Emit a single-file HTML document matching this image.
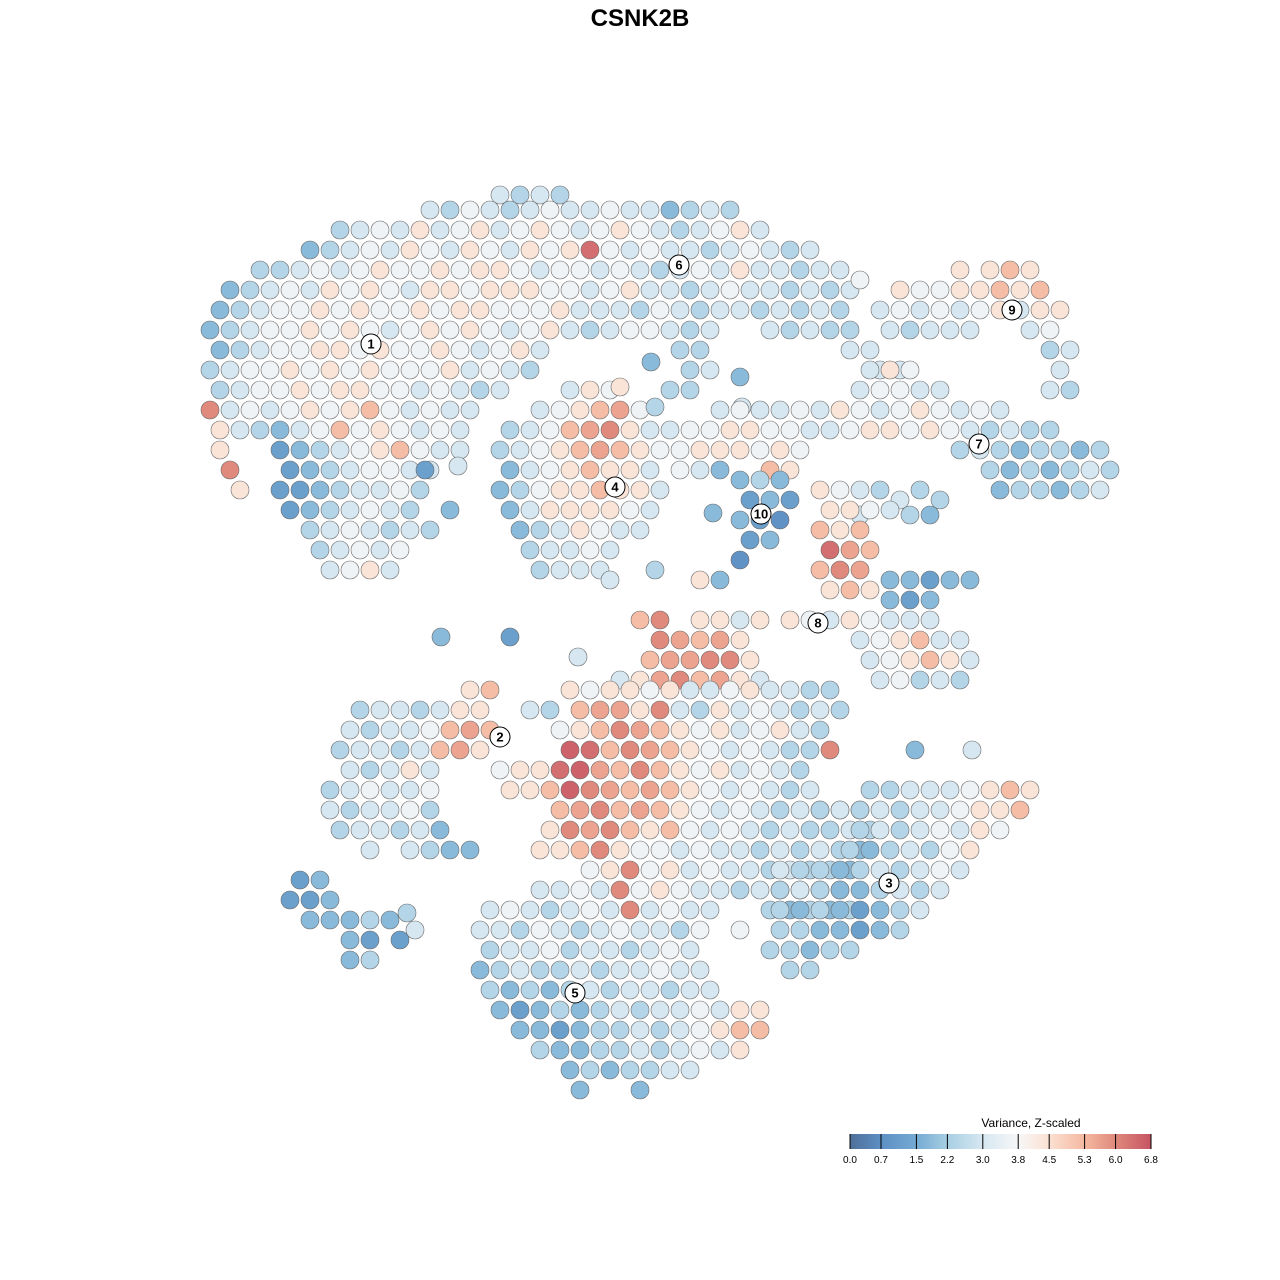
<!DOCTYPE html>
<html><head><meta charset="utf-8"><style>
html,body{margin:0;padding:0;background:#fff;}
svg{display:block;font-family:"Liberation Sans",sans-serif;}
</style></head><body>
<svg id="chart" width="1280" height="1280" viewBox="0 0 1280 1280">
<text x="640" y="26" text-anchor="middle" font-size="24" font-weight="bold">CSNK2B</text>
<g id="pts"></g>
<g id="labels"></g>
<g id="legend">
<defs><linearGradient id="grad" x1="0" x2="1" y1="0" y2="0">
<stop offset="0" stop-color="#4e6f99"/><stop offset="0.103" stop-color="#5d8fc4"/><stop offset="0.22" stop-color="#74aad3"/><stop offset="0.324" stop-color="#a8cfe3"/><stop offset="0.44" stop-color="#d6e7f1"/><stop offset="0.56" stop-color="#f7f7f7"/><stop offset="0.66" stop-color="#fbe1d3"/><stop offset="0.78" stop-color="#f5b8a0"/><stop offset="0.88" stop-color="#e08a7d"/><stop offset="1" stop-color="#c65463"/>
</linearGradient></defs>
<text x="1031" y="1127" text-anchor="middle" font-size="12">Variance, Z-scaled</text>
<rect x="850" y="1134" width="301" height="15" fill="url(#grad)"/>
<g id="lticks"></g>
</g>
</svg>
<script>
const tickLabels = ["0.0","0.7","1.5","2.2","3.0","3.8","4.5","5.3","6.0","6.8"];
const tickValues = [0.0,0.7,1.5,2.2,3.0,3.8,4.5,5.3,6.0,6.8];
const colorStopValues = [0,0.7,1.5,2.2,3.0,3.8,4.5,5.3,6.0,6.8];
const colorStopColors = ["#4e6f99","#5d8fc4","#74aad3","#a8cfe3","#d6e7f1","#f7f7f7","#fbe1d3","#f5b8a0","#e08a7d","#c65463"];

const clusterTop = [
[19.5,[50,52,54,56],[3,2.4,3,2.4]],
[21,[43,45,47,49,51,53,55,57,59,61,63,65,67,69,71,73],[3,2.4,3.6,3,2.4,3,3.6,3,3,3.6,3,3,1.8,2.4,3,2.4]],
[23,[34,36,38,40,42,44,46,48,50,52,54,56,58,60,62,64,66,68,70,72,74,76],[2.4,3,3.6,3,4.4,3,3.6,4.4,3,3.6,4.4,3.6,3,3.6,4.4,3.6,3,2.4,3,3.6,4.4,3]],
[25,[31,33,35,37,39,41,43,45,47,49,51,53,55,57,59,61,63,65,67,69,71,73,75,77,79,81],[1.8,2.4,3,3.6,3,4.4,3.6,3,4.4,3.6,3,4.4,3.6,4.4,6.4,3.6,3,3.6,3,3,2.4,3,3.6,3,2.4,3]],
[27,[26,28,30,32,34,36,38,40,42,44,46,48,50,52,54,56,58,60,62,64,66,68,70,72,74,76,78,80,82,84],[2.4,2.4,3,3.6,3,3.6,4.4,3.6,3.6,4.4,3.6,4.4,4.4,3.6,3,3.6,3.6,3,3.6,3,2.4,3,3.6,3,4.4,3,3,2.4,3,3]],
[29,[23,25,27,29,31,33,35,37,39,41,43,45,47,49,51,53,55,57,59,61,63,65,67,69,71,73,75,77,79,81,83,85],[1.8,2.4,3,3.6,3,4.4,3.6,4.4,3.6,3,4.4,4.4,3.6,4.4,4.4,4.4,3.6,3.6,3,3.6,4.4,3,3,2.4,3,3.6,3,3,2.4,3,2.4,3]],
[31,[22,24,26,28,30,32,34,36,38,40,42,44,46,48,50,52,54,56,58,60,62,64,66,68,70,72,74,76,78,80,82,84],[1.8,2.4,3,3.6,3.6,4.4,3.6,4.4,3.6,3.6,4.4,3.6,4.4,4.4,3.6,3.6,3.6,4.4,3,3,3,2.4,3.6,3,2.4,3,3,2.4,3,2.4,3,2.4]],
[33,[21,23,25,27,29,31,33,35,37,39,41,43,45,47,49,51,53,55,57,59,61,63,65,67,69,71,77,79,81,83,85],[1.8,2.4,3,3.6,3.6,4.4,3.6,4.4,3.6,3,3.6,4.4,3.6,4.4,3.6,3,3.6,4.4,3,2.4,3,3.6,3.6,3,2.4,3,3,2.4,3,2.4,2.4]],
[35,[22,24,26,28,30,32,34,36,38,40,42,44,46,48,50,52,54,68,70,85,87],[1.8,2.4,3,3.6,3.6,4.4,4.4,3.6,4.4,3.6,3.6,4.4,3.6,3,3.6,4.4,3,2.4,2.4,3,3]],
[37,[21,23,25,27,29,31,33,35,37,39,41,43,45,47,49,51,53,69,71,88,90],[2.4,3,3.6,3.6,4.4,3.6,4.4,3.6,4.4,3.6,3.6,3.6,4.4,3,3.6,3,2.4,2.4,3,3,3]],
[39,[22,24,26,28,30,32,34,36,38,40,42,44,46,48,50,67,69],[2.4,3,3.6,3.6,4.4,3.6,4.4,4.4,3.6,3.6,3,3.6,3,2.4,3,2.4,2.4]],
[41,[21,23,25,27,29,31,33,35,37,39,41,43,45,47],[6.0,3,3.6,3,3.6,4.4,3.6,4.4,5.2,3.6,3,3.6,3,3]],
[43,[22,24,26,28,30,32,34,36,38,40,42,44,46],[4.4,3,2.4,1.8,3,3.6,5.2,3.6,4.4,3.6,3,3.6,3]],
[45,[22,28,30,32,34,36,38,40,42,44,46],[4.4,1.2,1.8,2.4,3,3.6,4.4,5.2,3.6,3,3]],
[47,[23,29,31,33,35,37,39,41,43,42.5],[6.0,1.2,1.8,2.4,3,3.6,3.6,3,3,1.2]],
[49,[24,28,30,32,34,36,38,40,42],[4.4,1.2,1.2,1.8,2.4,3,3,3.6,2.4]],
[51,[29,31,33,35,37,39,41,45],[1.2,1.8,2.4,3,3.6,3,2.4,1.8]],
[53,[31,33,35,37,39,41,43],[2.4,3,3.6,3,2.4,3,2.4]],
[55,[32,34,36,38,40],[2.4,3,3.6,3,3.6]],
[57,[33,35,37,39],[3,3.6,4.4,3]],
[46.6,[45.8],[3]]
];
const cluster4 = [
[39,[57,59,61],[3,4.4,3.6]],
[41,[54,56,58,60,62,64],[3,3.6,4.4,5.2,5.6,3.6]],
[43,[51,53,55,57,59,61,63,65],[2.4,3,3.6,5.2,5.6,6.0,4.4,3]],
[45,[50,52,54,56,58,60,62,64,66],[2.4,3,3.6,4.4,5.2,5.6,5.2,4.4,3.6]],
[47,[51,53,55,57,59,61,63,65],[1.8,3,3.6,4.4,5.2,4.4,4.4,3]],
[49,[50,52,54,56,58,60,62,64,66],[1.8,2.4,3.6,4.4,4.4,5.2,4.4,4.4,3]],
[51,[51,53,55,57,59,61,63,65],[1.8,3,4.4,4.4,4.4,4.4,3.6,3]],
[53,[52,54,56,58,60,62,64],[1.8,2.4,3,4.4,3.6,3,3]],
[55,[53,55,57,59,61],[2.4,3,3,3.6,3]],
[57,[54,56,58,60,65.5],[2.4,3,3,3,2.4]],
[36.2,[65.1],[1.8]],[38.7,[62],[4.4]],[40.7,[65.5,74.2],[2.4,3]],[37.7,[74],[1.8]],[51.3,[71.3],[1.8]]
];
const armTo7 = [
[37,[87,89,91],[3,4.4,3.6]],
[39,[86,88,90,92,94],[3,3.6,3.6,3,3]],
[41,[72,74,76,78,80,82,84,86,88,90,92,94,96,98,100],[3,3.6,3,3,3.6,3,4.4,3.6,3,3.6,4.4,3.6,3,3.6,3]],
[43,[67,69,71,73,75,77,79,81,83,85,87,89,91,93,95],[3,3.6,3.6,4.4,4.4,3.6,3.6,3,3,3.6,4.4,4.4,3.6,4.4,3.6]],
[45,[68,70,72,74,76,78,80],[3.6,4.4,4.4,4.4,3.6,4.4,3.6]],
[47,[68,70,72,77,79],[3.6,3,1.8,5.2,4.4]]
];
const cluster10 = [
[48,[74,76,78],[1.8,2.4,1.8]],
[50,[75,77,79],[1.2,1.8,1.2]],
[52,[74,76,78],[1.8,1.2,0.8]],
[54,[75,77],[1.2,1.8]],
[56,[74],[0.8]]
];
const cluster7 = [
[43,[97,99,101,103,105],[3,2.4,3,2.4,2.4]],
[45,[96,98,100,102,104,106,108,110],[2.4,3,2.4,1.8,2.4,2.4,1.8,2.4]],
[47,[99,101,103,105,107,109,111],[2.4,1.8,2.4,1.8,2.4,3,2.4]],
[49,[88,92,100,102,104,106,108,110],[2.4,2.4,1.8,2.4,2.4,1.8,2.4,3]],
[50,[90,94],[3,2.4]],
[51.5,[86,91,93],[3,2.4,1.8]]
];
const cluster9 = [
[27,[96,99,101,103],[4.4,4.4,5.2,4.4]],
[28,[86],[3.6]],
[29,[90,92,94,96,98,100,102,104],[4.4,3.6,3.6,4.4,4.4,5.2,4.4,5.2]],
[31,[88,90,92,94,96,98,100,102,104,106],[3,3.6,3,3.6,3,3.6,4.4,3,4.4,4.4]],
[33,[89,91,93,95,97,103,105],[3,2.4,3,3,3,3,3.6]],
[35,[105,107],[2.4,3]],
[37,[106],[3]],
[39,[105,107],[3,2.4]]
];
const cluster8 = [
[49,[82,84,86],[4.4,3.6,3]],
[51,[83,85,87,89],[4.4,4.4,3.6,3]],
[53,[82,84,86],[5.2,4.4,5.2]],
[55,[83,85,87],[6.4,5.6,5.2]],
[57,[82,84,86],[5.2,6.0,5.6]],
[58,[61,70,72,89,91,93,95,97],[3,4.4,1.8,1.8,1.8,1.2,1.8,1.8]],
[59,[83,85,87],[4.4,5.2,4.4]],
[60,[89,91,93],[1.8,1.2,1.8]],
[62,[64,66,70,72,74,76,79,81,83,85,87,89,91,93],[5.2,6.0,4.4,4.4,3,4.4,4.4,3.6,3,4.4,3.6,3,3,3]],
[64,[66,68,70,72,74,86,88,90,92,94,96],[6.0,5.6,5.2,5.6,4.4,3,3.6,4.4,5.2,3,3]],
[66,[65,67,69,71,73,75,87,89,91,93,95,97],[5.2,5.6,5.6,6.0,6.0,4.4,3,3.6,4.4,5.2,4.4,3]],
[68,[62,64,66,68,70,72,74,76,88,90,92,94,96],[3,4.4,5.6,6.0,5.2,5.6,4.4,3,3,3.6,2.4,3,2.4]],
[63.7,[51,44.1],[1.2,1.8]],[65.7,[57.8],[3]]
];
const clusterCenter = [
[69,[57,59,61,63,65,67,69,71,73,75,77,79,81,83],[4.4,3.6,4.4,4.4,3.6,4.4,3,3,3.6,4.4,3,3,2.4,2.4]],
[71,[53,55,58,60,62,64,66,68,70,72,74,76,78,80,82,84],[3,2.4,5.2,5.6,5.6,4.4,6.0,3,2.4,4.4,3,3.6,3,2.4,3,2.4]],
[73,[56,58,60,62,64,66,68,70,72,74,76,78,80,82],[3.6,4.4,5.2,6.0,5.6,5.2,4.4,3.6,4.4,3,3.6,4.4,3,2.4]],
[75,[57,59,61,63,65,67,69,71,73,75,77,79,81,83],[6.6,6.4,5.2,6.0,5.6,5.2,4.4,3.6,3,3.6,3,2.4,2.4,6.0]],
[77,[56,58,60,62,64,66,68,70,72,74,76,78,80],[6.4,6.6,5.6,5.2,6.0,5.2,4.4,3.6,4.4,3,3.6,3,2.4]],
[79,[55,57,59,61,63,65,67,69,71,73,75,77,79,81],[5.2,6.6,6.0,5.6,5.2,5.6,5.2,4.4,3.6,3,3.6,3,2.4,3]],
[81,[56,58,60,62,64,66,68,70,72,74,76,78,80,82,84,86],[5.2,5.6,6.0,5.2,5.6,5.2,4.4,3.6,3,3.6,3,2.4,3,2.4,3,2.4]],
[83,[55,57,59,61,63,65,67,69,71,73,75,77,79,81,83,85,87],[4.4,6.0,5.6,6.0,5.2,4.4,5.2,3.6,3,3.6,3,2.4,3,2.4,2.4,3,2.4]],
[85,[54,56,58,60,62,64,66,68,70,72,74,76,78,80,82,84,86],[4.4,4.4,5.2,6.0,4.4,3.6,3.6,3,3.6,3,3,2.4,3,2.4,3,2.4,1.8]],
[87,[59,61,63,65,67,69,71,73,75,77,79,81,83,85],[3.6,4.4,6.0,3.6,4.4,3,3.6,3,3,2.4,3,2.4,2.4,1.8]],
[89,[54,56,58,60,62,64,66,68,70,72,74,76,78,80,82,84],[3,3,3.6,3,6.0,3.6,4.4,3.6,3,3,2.4,3,2.4,1.8,2.4,1.8]],
[91,[49,51,53,55,57,59,61,63,65,67,69,71,77,79,81,83,85],[3,3.6,3,2.4,3,3.6,3,6.0,3,3.6,3,3,2.4,1.8,2.4,1.8,2.4]]
];
const cluster2 = [
[69,[47,49],[4.4,5.2]],
[71,[36,38,40,42,44,46,48],[2.4,3,3,2.4,3,4.4,4.4]],
[73,[35,37,39,41,43,45,47,49],[3,2.4,3,3,3.6,5.2,5.6,5.2]],
[75,[34,36,38,40,42,44,46,48],[2.4,3,3,2.4,3,5.2,5.6,4.4]],
[77,[35,37,39,41,43,50,52,54],[3,2.4,3,4.4,3,3.6,4.4,4.4]],
[79,[33,35,37,39,41,43,51,53],[2.4,3,3.6,3,3,3.6,4.4,4.4]],
[81,[33,35,37,39,41,43],[3,2.4,3,3,3.6,2.4]],
[83,[34,36,38,40,42,44],[2.4,3,3,2.4,3,1.8]],
[85,[37,41,43,45,47],[3,3,2.4,1.8,1.8]]
];
const cluster3 = [
[75,[91.5,97.2],[1.8,3]],
[79,[87,89,91,93,95,97,99,101,103],[2.4,2.4,3,3,3,3.6,4.4,5.2,4.4]],
[81,[82,84,86,88,90,92,94,96,98,100,102],[2.4,3,2.4,3,2.4,3,3,3.6,4.4,4.4,5.2]],
[83,[86,88,90,92,94,96,98,100],[2.4,3,2.4,3,3.6,3,4.4,3.6]],
[85,[85,87,89,91,93,95,97],[2.4,1.8,2.4,3,2.4,3.6,4.4]],
[87,[78,80,82,84,86,88,90,92,94,96],[3,2.4,2.4,1.8,2.4,3,2.4,3,3.6,3]],
[89,[78,80,82,84,86,88,90,92,94],[2.4,3,2.4,1.8,1.8,2.4,3,2.4,3]],
[91,[78,80,82,84,86,88,90,92],[2.4,1.8,2.4,1.8,1.2,1.8,2.4,3]],
[93,[78,80,82,84,86,88,90],[2.4,2.4,1.8,1.8,1.2,1.8,2.4]],
[95,[77,79,81,83,85],[2.4,2.4,1.8,2.4,2.4]],
[97,[79,81],[2.4,2.4]]
];
const cluster5 = [
[93,[48,50,52,54,56,58,60,62,64,66,68,70,74],[3,3,2.4,3.6,3,2.4,3,3.6,3,3,2.4,3.6,3.6]],
[95,[49,51,53,55,57,59,61,63,65,67,69],[2.4,3,3,3.6,2.4,3,3,2.4,3,3.6,3]],
[97,[48,50,52,54,56,58,60,62,64,66,68,70],[1.8,2.4,3,2.4,2.4,3,2.4,3,3,3.6,3,3]],
[99,[49,51,53,55,57,59,61,63,65,67,69,71],[2.4,1.8,2.4,1.8,2.4,3,2.4,3,3,2.4,3,3]],
[101,[50,52,54,56,58,60,62,64,66,68,70,72,74,76],[1.8,1.2,1.8,2.4,1.8,2.4,3,2.4,3,3,3.6,3,4.4,4.4]],
[103,[52,54,56,58,60,62,64,66,68,70,72,74,76],[1.8,1.8,1.2,1.8,2.4,2.4,3,2.4,3,3.6,4.4,5.2,5.2]],
[105,[54,56,58,60,62,64,66,68,70,72,74],[2.4,1.8,1.8,2.4,2.4,3,2.4,3,3.6,3,4.4]],
[107,[57,59,61,63,65,67,69],[1.8,2.4,1.8,2.4,2.4,3,3]],
[109,[58,64],[1.8,1.8]]
];
const clusterSmallBlue = [
[88,[30,32],[1.2,1.8]],
[90,[29,31,33],[1.2,1.2,1.8]],
[91.3,[40.7],[2.4]],
[92,[31,33,35,37,39],[1.8,1.8,1.8,2.4,1.8]],
[93,[41.5],[3]],
[94,[35,37,40],[1.8,1.2,1.2]],
[96,[35,37],[1.8,2.4]]
];
const clusterNames = ["1","2","3","4","5","6","7","8","9","10"];
const clusterLabelX = [37.1,50.0,88.9,61.5,57.5,67.9,97.9,81.8,101.2,76.1];
const clusterLabelY = [34.4,73.7,88.3,48.7,99.3,26.5,44.4,62.3,31.0,51.4];

const NS="http://www.w3.org/2000/svg";
function xScale(d){return d/128*1280;}
function yScale(d){return d/128*1280;}
function hexToRgb(h){return [parseInt(h.slice(1,3),16),parseInt(h.slice(3,5),16),parseInt(h.slice(5,7),16)];}
function colorFor(v){
  if(v<=colorStopValues[0]) return colorStopColors[0];
  for(let i=1;i<colorStopValues.length;i++){
    if(v<=colorStopValues[i]){
      const t=(v-colorStopValues[i-1])/(colorStopValues[i]-colorStopValues[i-1]);
      const a=hexToRgb(colorStopColors[i-1]),b=hexToRgb(colorStopColors[i]);
      return "rgb("+a.map((c,k)=>Math.round(c+(b[k]-c)*t)).join(",")+")";
    }
  }
  return colorStopColors[colorStopColors.length-1];
}
const pts=document.getElementById("pts");
const allClusters=[clusterTop,cluster4,armTo7,cluster10,cluster7,cluster9,cluster8,clusterCenter,cluster2,cluster3,cluster5,clusterSmallBlue];
allClusters.forEach(rows=>{
  rows.forEach(row=>{
    const y=row[0];
    row[1].forEach((x,i)=>{
      const c=document.createElementNS(NS,"circle");
      c.setAttribute("cx",xScale(x));
      c.setAttribute("cy",yScale(y));
      c.setAttribute("r",9);
      c.setAttribute("fill",colorFor(row[2][i]));
      c.setAttribute("stroke","#6a6a6a");
      c.setAttribute("stroke-width","0.6");
      
      
      pts.appendChild(c);
    });
  });
});
const lab=document.getElementById("labels");
clusterNames.forEach((n,i)=>{
  const g=document.createElementNS(NS,"g");
  
  
  const c=document.createElementNS(NS,"circle");
  c.setAttribute("cx",xScale(clusterLabelX[i]));c.setAttribute("cy",yScale(clusterLabelY[i]));
  c.setAttribute("r",10);c.setAttribute("fill","#fff");c.setAttribute("stroke","#000");c.setAttribute("stroke-width","1");
  const t=document.createElementNS(NS,"text");
  t.setAttribute("x",xScale(clusterLabelX[i]));t.setAttribute("y",yScale(clusterLabelY[i])+4.5);
  t.setAttribute("text-anchor","middle");t.setAttribute("font-size","13");t.setAttribute("font-weight","bold");
  t.textContent=n;
  g.appendChild(c);g.appendChild(t);lab.appendChild(g);
});
const lt=document.getElementById("lticks");
function legX(v){return 850+v/6.8*301;}
tickValues.forEach((v,i)=>{
  const l=document.createElementNS(NS,"line");
  l.setAttribute("x1",legX(v));l.setAttribute("x2",legX(v));l.setAttribute("y1",1134);l.setAttribute("y2",1149);
  l.setAttribute("stroke","#000");l.setAttribute("stroke-width","1");
  
  
  lt.appendChild(l);
  const t=document.createElementNS(NS,"text");
  t.setAttribute("x",legX(v));t.setAttribute("y",1163);t.setAttribute("text-anchor","middle");t.setAttribute("font-size","10");
  t.textContent=tickLabels[i];
  
  
  lt.appendChild(t);
});
</script>
</body></html>
